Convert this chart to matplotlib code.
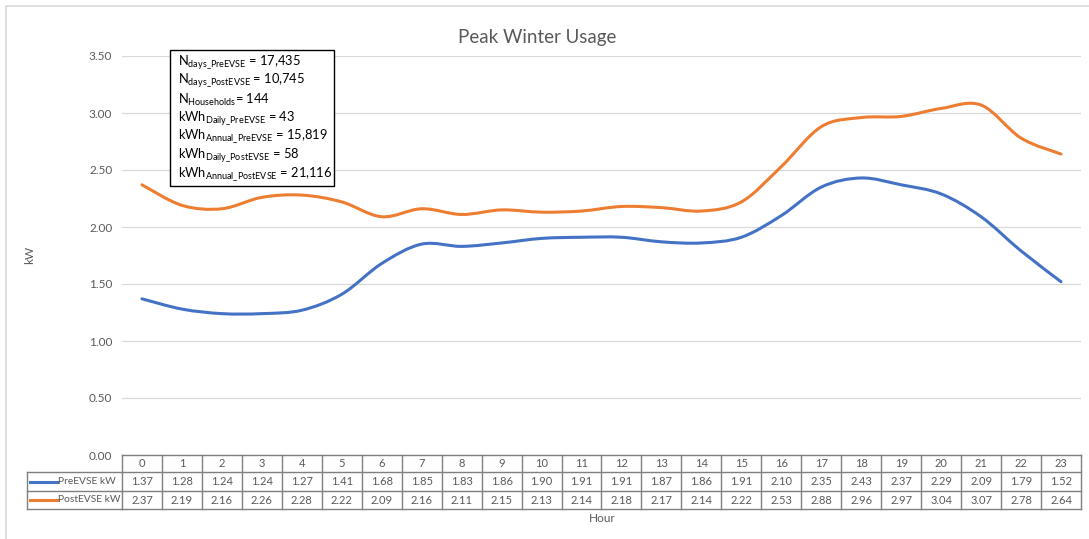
import numpy as np
import matplotlib.pyplot as plt
from matplotlib.path import Path
from matplotlib.patches import PathPatch, Rectangle
from matplotlib.transforms import blended_transform_factory

hours = list(range(24))
pre_evse = [1.37, 1.28, 1.24, 1.24, 1.27, 1.41, 1.68, 1.85, 1.83, 1.86, 1.90, 1.91,
            1.91, 1.87, 1.86, 1.91, 2.10, 2.35, 2.43, 2.37, 2.29, 2.09, 1.79, 1.52]
post_evse = [2.37, 2.19, 2.16, 2.26, 2.28, 2.22, 2.09, 2.16, 2.11, 2.15, 2.13, 2.14,
             2.18, 2.17, 2.14, 2.22, 2.53, 2.88, 2.96, 2.97, 3.04, 3.07, 2.78, 2.64]
series_names = ["PreEVSE kW", "PostEVSE kW"]
colors = ["#4472C4", "#ED7D31"]
yticks = [0, 0.5, 1.0, 1.5, 2.0, 2.5, 3.0, 3.5]
notes = [
    (r"N$\mathregular{_{days\_PreEVSE}}$", " = 17,435"),
    (r"N$\mathregular{_{days\_PostEVSE}}$", " = 10,745"),
    (r"N$\mathregular{_{Households}}$", "= 144"),
    (r"kWh$\mathregular{_{Daily\_PreEVSE}}$", " = 43"),
    (r"kWh$\mathregular{_{Annual\_PreEVSE}}$", " = 15,819"),
    (r"kWh$\mathregular{_{Daily\_PostEVSE}}$", " = 58"),
    (r"kWh$\mathregular{_{Annual\_PostEVSE}}$", " = 21,116"),
]

W, H = 1089, 539
plt.rcParams['font.family'] = ['Lato', 'DejaVu Sans']
plt.rcParams['mathtext.fontset'] = 'custom'
plt.rcParams['mathtext.rm'] = 'Lato'
grey = "#595959"


def fx(x):
    return x / W


def fy(y):
    return 1 - y / H


def smooth_path(xs, ys):
    # bezier through the points, like excel's smoothed line
    xs = np.asarray(xs, float)
    ys = np.asarray(ys, float)
    n = len(xs)
    verts = [(xs[0], ys[0])]
    codes = [Path.MOVETO]
    for i in range(n - 1):
        p0 = (xs[max(i - 1, 0)], ys[max(i - 1, 0)])
        p1 = (xs[i], ys[i])
        p2 = (xs[i + 1], ys[i + 1])
        p3 = (xs[min(i + 2, n - 1)], ys[min(i + 2, n - 1)])
        c1 = (p1[0] + (p2[0] - p0[0]) / 6, p1[1] + (p2[1] - p0[1]) / 6)
        c2 = (p2[0] - (p3[0] - p1[0]) / 6, p2[1] - (p3[1] - p1[1]) / 6)
        verts += [c1, c2, p2]
        codes += [Path.CURVE4] * 3
    return Path(verts, codes)


fig = plt.figure(figsize=(W / 100, H / 100), dpi=100)
ax_left, ax_right, ax_top, ax_bot = 122, 1081, 56, 455
ax = fig.add_axes([fx(ax_left), fy(ax_bot), (ax_right - ax_left) / W, (ax_bot - ax_top) / H])

for vals, c in zip([pre_evse, post_evse], colors):
    ax.add_patch(PathPatch(smooth_path(hours, vals), facecolor='none', edgecolor=c,
                           lw=2.2, capstyle='round', joinstyle='round', zorder=3))

ax.set_xlim(-0.5, 23.5)
ax.set_ylim(0, 3.5)
ax.set_yticks(yticks)
ax.set_yticklabels(["%.2f" % v for v in yticks], color=grey, fontsize=8.5)
ax.tick_params(axis='y', length=0, pad=7)
ax.set_xticks([])
for s in ax.spines.values():
    s.set_visible(False)
ax.grid(axis='y', color="#D9D9D9", lw=0.9)
ax.set_axisbelow(True)

# title and axis labels
fig.text(fx(537), fy(38), "Peak Winter Usage", ha='center', va='center', fontsize=13.5, color=grey)
fig.text(fx(30), fy(255), "kW", ha='center', va='center', rotation=90, fontsize=8.5, color=grey)
fig.text(fx(602), fy(519), "Hour", ha='center', va='center', fontsize=8.5, color=grey)

# outer frame (left and top visible)
fig.patches.append(Rectangle((fx(5.5), -0.1), 1.2, fy(6) + 0.1, transform=fig.transFigure,
                             fill=False, ec="#D9D9D9", lw=1.2))

# data table
tr = blended_transform_factory(ax.transData, fig.transFigure)
row_y = [455, 472, 491, 509]
bc = "#7F7F7F"
for i, yy in enumerate(row_y):
    if i > 0:
        fig.add_artist(plt.Line2D([fx(27), fx(ax_left)], [fy(yy), fy(yy)], color=bc, lw=1))
    fig.add_artist(plt.Line2D([-0.5, 23.5], [fy(yy), fy(yy)], color=bc, lw=1, transform=tr))
for h in range(25):
    fig.add_artist(plt.Line2D([h - 0.5, h - 0.5], [fy(455), fy(509)], color=bc, lw=1, transform=tr))
fig.add_artist(plt.Line2D([fx(27), fx(27)], [fy(472), fy(509)], color=bc, lw=1))

for h in hours:
    fig.text(h, fy((row_y[0] + row_y[1]) / 2), str(h), ha='center', va='center',
             fontsize=8, color=grey, transform=tr)
for r, (vals, c, name) in enumerate(zip([pre_evse, post_evse], colors, series_names)):
    ymid = (row_y[r + 1] + row_y[r + 2]) / 2
    for h, v in zip(hours, vals):
        fig.text(h, fy(ymid), "%.2f" % v, ha='center', va='center', fontsize=8,
                 color=grey, transform=tr)
    fig.add_artist(plt.Line2D([fx(30), fx(57)], [fy(ymid), fy(ymid)], color=c, lw=2.2))
    fig.text(fx(58), fy(ymid), name, ha='left', va='center', fontsize=7.4, color=grey)

# annotation box
fig.patches.append(Rectangle((fx(170), fy(186)), (334 - 170) / W, (186 - 50) / H,
                             transform=fig.transFigure, fill=True, fc='white', ec='black', lw=1,
                             zorder=5))
line_y = [63, 81, 100, 119, 137, 156, 175]
for (lab, val), yy in zip(notes, line_y):
    fig.text(fx(178), fy(yy), lab + val, ha='left', va='center', fontsize=9.3,
             color='black', zorder=6)

fig.savefig("out.png", dpi=100)
